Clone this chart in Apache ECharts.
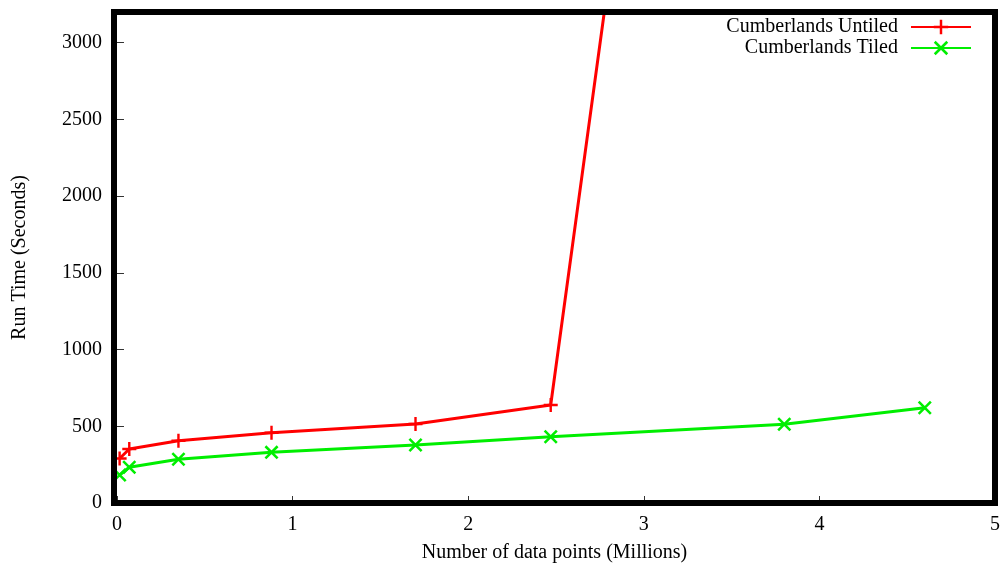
<!DOCTYPE html>
<html>
<head>
<meta charset="utf-8">
<script src="https://cdn.jsdelivr.net/npm/echarts@6/dist/echarts.min.js"></script>
<style>
html,body{margin:0;padding:0;background:#fff;}
#chart{width:1008px;height:571px;}
</style>
</head>
<body>
<div id="chart"></div>
<script>
const xValues = [0.015, 0.07, 0.35, 0.88, 1.70, 2.47, 3.80, 4.60];
const untiled = [290, 352, 406, 458, 515, 639, 11800];
const tiled = [182, 233, 285, 330, 378, 432, 513, 621];
const seriesNames = ['Cumberlands Untiled', 'Cumberlands Tiled'];
const xTicks = [0, 1, 2, 3, 4, 5];
const yTicks = [0, 500, 1000, 1500, 2000, 2500, 3000];

const FONT = 'Liberation Serif';
const plusPath = 'path://M5.8,0 H8.2 V14 H5.8 Z M0,5.8 H14 V8.2 H0 Z';
const crossPath = 'path://M0,1.8 L1.8,0 L14,12.2 L12.2,14 Z M12.2,0 L14,1.8 L1.8,14 L0,12.2 Z';

const chart = echarts.init(document.getElementById('chart'), null, {renderer: 'canvas'});
const tickStyle = {color: '#333', width: 1};
chart.setOption({
  animation: false,
  backgroundColor: '#fff',
  grid: {left: 114, right: 13, top: 12, bottom: 68, outerBoundsMode: 'none', containLabel: false,
    show: true, borderWidth: 6, borderColor: '#000', backgroundColor: 'transparent', z: 10},
  legend: {
    orient: 'vertical', right: 31, top: 12, align: 'right',
    itemWidth: 60, itemHeight: 18, itemGap: 1,
    textStyle: {fontFamily: FONT, fontSize: 20, color: '#000', padding: [0, 8, 0, 0]},
    data: seriesNames
  },
  xAxis: {
    type: 'value', min: -0.017, max: 5,
    name: 'Number of data points (Millions)', nameLocation: 'middle', nameGap: 40,
    nameTextStyle: {fontFamily: FONT, fontSize: 20, color: '#000'},
    axisLine: {show: false}, splitLine: {show: false},
    axisTick: {show: true, inside: true, length: 7, lineStyle: tickStyle, customValues: xTicks},
    axisLabel: {fontFamily: FONT, fontSize: 20, color: '#000', margin: 12, customValues: xTicks,
      formatter: v => String(Math.round(v))}
  },
  yAxis: {
    type: 'value', min: 0, max: 3200, interval: 500,
    name: 'Run Time (Seconds)', nameLocation: 'middle', nameGap: 84,
    nameTextStyle: {fontFamily: FONT, fontSize: 20, color: '#000'},
    axisLine: {show: false}, splitLine: {show: false},
    axisTick: {show: true, inside: true, length: 7, lineStyle: tickStyle},
    axisLabel: {fontFamily: FONT, fontSize: 20, color: '#000', margin: 12, showMaxLabel: false,
      formatter: v => yTicks.includes(v) ? String(v) : ''}
  },
  series: [
    {
      name: seriesNames[0], type: 'line', clip: true,
      data: untiled.map((v, i) => [xValues[i], v]),
      symbol: plusPath, symbolSize: 14, showAllSymbol: true,
      lineStyle: {color: '#ff0000', width: 3},
      itemStyle: {color: '#ff0000'}
    },
    {
      name: seriesNames[1], type: 'line', clip: true,
      data: tiled.map((v, i) => [xValues[i], v]),
      symbol: crossPath, symbolSize: 14, showAllSymbol: true,
      lineStyle: {color: '#00ee00', width: 3},
      itemStyle: {color: '#00ee00'}
    }
  ]
});
</script>
</body>
</html>
